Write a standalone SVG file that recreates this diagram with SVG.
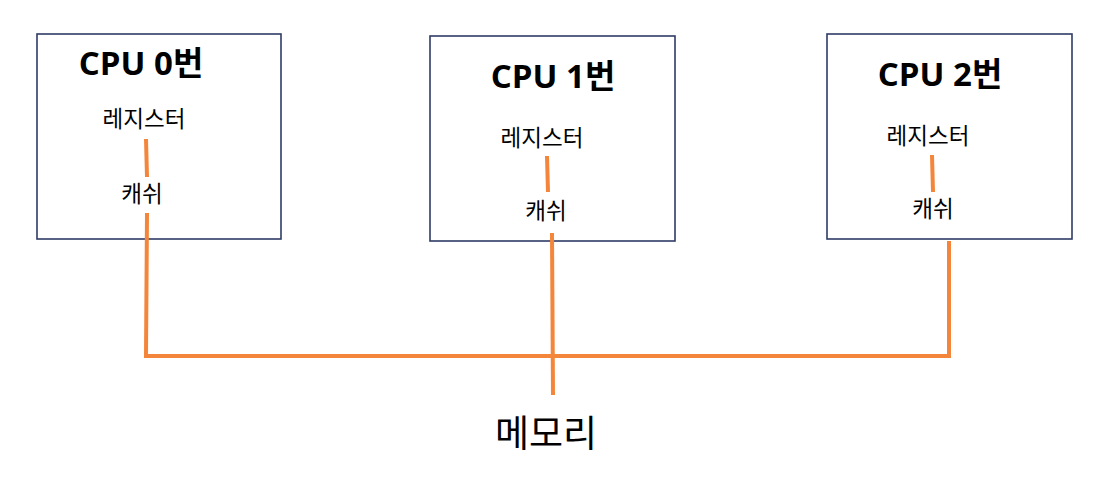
<svg xmlns="http://www.w3.org/2000/svg" width="1101" height="496" viewBox="0 0 1101 496">
<style>
.box{fill:#fff;stroke:#2f3b66;stroke-width:1.6}
.title{font-family:"Open Sans","Noto Sans CJK KR",sans-serif;font-weight:bold;font-size:33px;fill:#000;text-anchor:middle}
.lbl{font-family:"Noto Sans CJK KR",sans-serif;font-size:22.5px;fill:#000;text-anchor:middle}
.mem{font-family:"Noto Sans CJK KR",sans-serif;font-size:37px;fill:#000;text-anchor:middle}
.wire{stroke:#f4863b;stroke-width:4;fill:none;stroke-linecap:butt;stroke-linejoin:miter}
</style>
<rect width="1101" height="496" fill="#fff"/>
<g id="cpu0">
<rect class="box" x="37" y="34" width="244" height="205"/>
<text class="title" x="141" y="75">CPU 0번</text>
<text class="lbl" x="144" y="127">레지스터</text>
<text class="lbl" x="142" y="202">캐쉬</text>
</g>
<g id="cpu1">
<rect class="box" x="430" y="36" width="245" height="205"/>
<text class="title" x="553" y="88">CPU 1번</text>
<text class="lbl" x="542" y="146">레지스터</text>
<text class="lbl" x="546" y="219">캐쉬</text>
</g>
<g id="cpu2">
<rect class="box" x="827" y="34" width="245" height="205"/>
<text class="title" x="940" y="86">CPU 2번</text>
<text class="lbl" x="928" y="144">레지스터</text>
<text class="lbl" x="933" y="217">캐쉬</text>
</g>
<g id="memory">
<text class="mem" x="546" y="447">메모리</text>
</g>
<g id="connectors">
<line class="wire" x1="146" y1="139" x2="147" y2="177"/>
<line class="wire" x1="547" y1="156" x2="548" y2="192"/>
<line class="wire" x1="932" y1="155" x2="933" y2="192"/>
<polyline class="wire" points="147,213 146,356 949,356 949,241"/>
<line class="wire" x1="552" y1="233" x2="553" y2="395"/>
</g>
</svg>
